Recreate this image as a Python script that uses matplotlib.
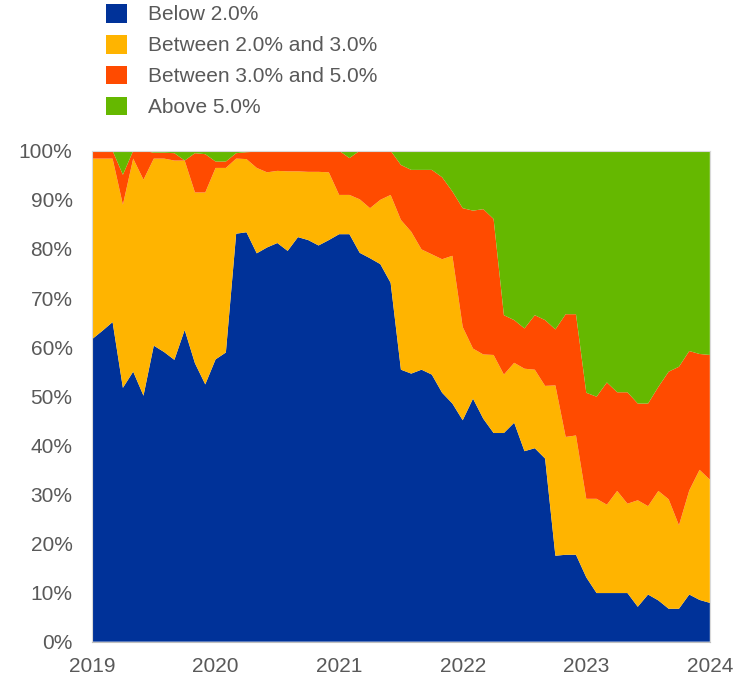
import numpy as np
import matplotlib
matplotlib.use('Agg')
from matplotlib import pyplot as plt
from matplotlib.patches import Patch

plt.rcParams['font.family'] = ['Liberation Sans', 'DejaVu Sans']

# Monthly shares (%), Jan 2019 - Jan 2024
below_2 = [61.6, 63.3, 65.1, 51.7, 55.0, 50.1, 60.3, 59.0, 57.4, 63.5,
           56.7, 52.4, 57.5, 58.9, 83.1, 83.4, 79.1, 80.3, 81.2, 79.6,
           82.4, 81.8, 80.7, 81.8, 83.0, 83.0, 79.2, 78.1, 76.9, 73.1,
           55.4, 54.6, 55.4, 54.4, 50.7, 48.5, 45.1, 49.5, 45.4, 42.5,
           42.5, 44.6, 38.8, 39.4, 37.3, 17.5, 17.7, 17.7, 13.1, 9.9,
           9.9, 9.9, 9.9, 7.1, 9.6, 8.4, 6.7, 6.7, 9.6, 8.5, 7.9]
between_2_3 = [36.8, 35.1, 33.3, 37.3, 43.4, 44.0, 38.1, 39.4, 40.6, 34.5,
               34.8, 39.1, 39.0, 37.6, 15.3, 14.9, 17.4, 15.3, 14.7, 16.2,
               13.4, 13.9, 15.0, 13.8, 8.0, 8.0, 10.9, 10.2, 13.1, 17.9,
               30.5, 28.9, 24.5, 24.5, 27.2, 30.1, 19.0, 10.2, 13.1, 15.9,
               11.9, 12.2, 16.8, 16.0, 14.8, 34.7, 24.0, 24.3, 16.0, 19.2,
               18.0, 20.8, 18.2, 21.7, 18.0, 22.3, 22.3, 17.0, 21.2, 26.5, 25.1]
between_3_5 = [1.6, 1.6, 1.6, 6.1, 1.6, 5.9, 1.2, 1.2, 1.5, 0.0,
               8.0, 7.8, 1.3, 1.3, 1.1, 1.4, 3.3, 4.4, 4.1, 4.2,
               4.2, 4.3, 4.3, 4.4, 9.0, 7.5, 9.9, 11.7, 10.0, 9.0,
               11.2, 12.6, 16.2, 17.2, 16.7, 13.1, 24.2, 28.1, 29.6, 27.7,
               12.1, 8.7, 8.2, 11.1, 13.4, 11.4, 25.0, 24.7, 21.6, 20.8,
               24.9, 20.1, 22.7, 19.7, 20.9, 21.2, 26.0, 32.3, 28.4, 23.6, 25.4]
above_5 = [0.0, 0.0, 0.0, 4.9, 0.0, 0.0, 0.4, 0.4, 0.5, 2.0,
           0.5, 0.7, 2.2, 2.2, 0.5, 0.3, 0.2, 0.0, 0.0, 0.0,
           0.0, 0.0, 0.0, 0.0, 0.0, 1.5, 0.0, 0.0, 0.0, 0.0,
           2.9, 3.9, 3.9, 3.9, 5.4, 8.3, 11.7, 12.2, 11.9, 13.9,
           33.5, 34.5, 36.2, 33.5, 34.5, 36.4, 33.3, 33.3, 49.3, 50.1,
           47.2, 49.2, 49.2, 51.5, 51.5, 48.1, 45.0, 44.0, 40.8, 41.4, 41.6]

labels = ['Below 2.0%', 'Between 2.0% and 3.0%',
          'Between 3.0% and 5.0%', 'Above 5.0%']
colors = ['#003299', '#ffb400', '#ff4b00', '#65b800']
years = [2019, 2020, 2021, 2022, 2023, 2024]

months = 2019 + np.arange(len(below_2)) / 12.0

fig = plt.figure(figsize=(7.48, 6.79), dpi=100)
ax = fig.add_axes([0.123, 0.055, 0.826, 0.723])

ax.stackplot(months, below_2, between_2_3, between_3_5, above_5,
             colors=colors, linewidth=0)

ax.set_xlim(2019, 2024)
ax.set_ylim(0, 100)
ax.set_xticks(years)
ax.set_xticklabels([str(y) for y in years])
ax.set_yticks(range(0, 101, 10))
ax.set_yticklabels(['{}%'.format(v) for v in range(0, 101, 10)])
ax.tick_params(length=0, labelsize=15, colors='#595959')
ax.tick_params(axis='y', pad=14)
ax.tick_params(axis='x', pad=11)
for side in ['top', 'right', 'left']:
    ax.spines[side].set_color('#d9d9d9')
    ax.spines[side].set_linewidth(0.8)
ax.spines['bottom'].set_color('#bfbfbf')

handles = [Patch(facecolor=c, edgecolor='none') for c in colors]
fig.legend(handles, labels, loc='upper left',
           bbox_to_anchor=(106 / 748, 1 - 4 / 679), borderpad=0,
           borderaxespad=0, frameon=False, fontsize=15, handlelength=1.0,
           handleheight=1.0, handletextpad=1.0, labelspacing=0.5,
           labelcolor='#595959')

plt.savefig('out.png', dpi=100)
